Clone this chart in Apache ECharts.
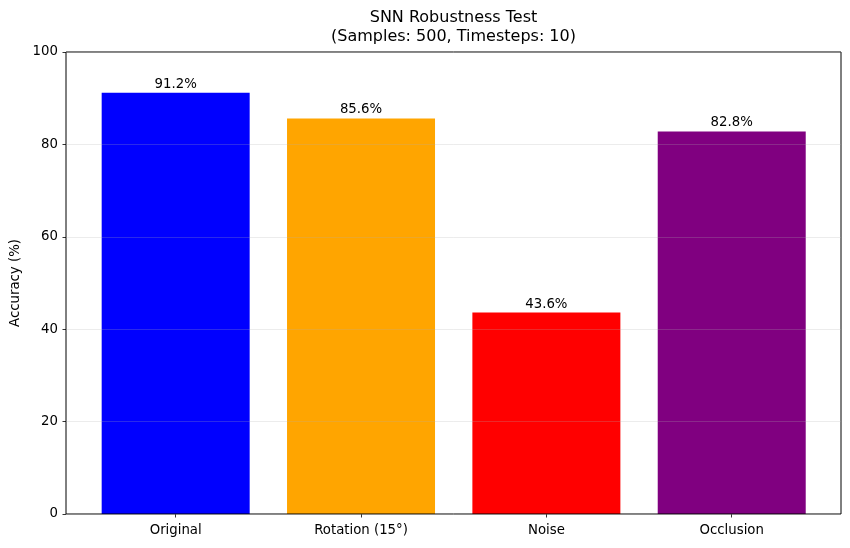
<!DOCTYPE html>
<html>
<head>
<meta charset="utf-8">
<script src="https://cdn.jsdelivr.net/npm/echarts@6/dist/echarts.min.js"></script>
<style>html,body{margin:0;padding:0;background:#fff;}#c{width:850px;height:548px;}</style>
</head>
<body>
<div id="c"></div>
<script>
const categories = ['Original', 'Rotation (15°)', 'Noise', 'Occlusion'];
const accuracy = [91.2, 85.6, 43.6, 82.8];
const barColors = ['#0000ff', '#ffa500', '#ff0000', '#800080'];
const yTicks = [0, 20, 40, 60, 80, 100];
const titleText = 'SNN Robustness Test\n(Samples: 500, Timesteps: 10)';
const yLabel = 'Accuracy (%)';

const FONT = 'DejaVu Sans';
const chart = echarts.init(document.getElementById('c'), null, {renderer: 'canvas'});
chart.setOption({
  animation: false,
  backgroundColor: '#fff',
  graphic: [{
    type: 'text', x: 453.5, y: 8.5, z: 100,
    style: { text: titleText, font: '16px "DejaVu Sans"', fill: '#000', align: 'center', verticalAlign: 'top', lineHeight: 19 }
  }],
  grid: [
    { left: 66, right: 9, top: 52, bottom: 34, show: true, borderColor: '#000', borderWidth: 1, backgroundColor: 'transparent', z: 5 },
    { left: 83, right: 25.6, top: 52, bottom: 34 }
  ],
  xAxis: [
    { gridIndex: 0, type: 'value', min: 0, max: 1, show: false },
    { gridIndex: 1, type: 'category', data: categories,
      axisLine: { show: false },
      axisTick: { show: true, alignWithLabel: true, length: 3.5, lineStyle: { color: '#000', width: 0.8 } },
      axisLabel: { color: '#000', fontFamily: FONT, fontSize: 13.3, margin: 10 },
      splitLine: { show: false } }
  ],
  yAxis: [
    { gridIndex: 0, type: 'value', min: 0, max: 100, interval: 20, z: 10,
      name: yLabel, nameLocation: 'middle', nameRotate: 90, nameGap: 40,
      nameTextStyle: { color: '#000', fontFamily: FONT, fontSize: 13.3 },
      axisLine: { show: false },
      axisTick: { show: true, length: 3.5, lineStyle: { color: '#000', width: 0.8 } },
      axisLabel: { color: '#000', fontFamily: FONT, fontSize: 13.3, margin: 8,
        customValues: yTicks },
      splitLine: { show: true, lineStyle: { color: 'rgba(176,176,176,0.3)', width: 0.8 } } },
    { gridIndex: 1, type: 'value', min: 0, max: 100, show: false, splitLine: { show: false } }
  ],
  series: [{
    type: 'bar', xAxisIndex: 1, yAxisIndex: 1, barWidth: 148,
    data: accuracy.map((v, i) => ({ value: v, itemStyle: { color: barColors[i] } })),
    label: { show: true, position: 'top', distance: 2, color: '#000', fontFamily: FONT, fontSize: 13.3,
      formatter: p => p.value.toFixed(1) + '%' }
  }]
});
</script>
</body>
</html>
